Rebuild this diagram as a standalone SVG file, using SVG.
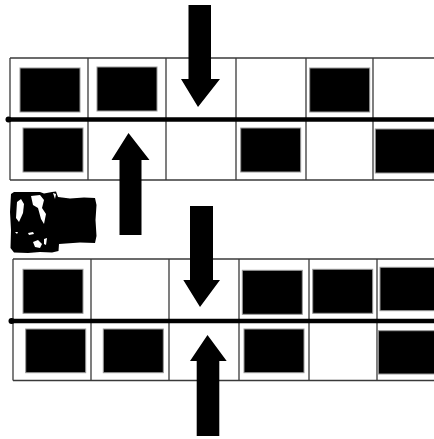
<svg xmlns="http://www.w3.org/2000/svg" width="434" height="439" viewBox="0 0 434 439">
<style>
.g{fill:none;stroke:#3a3a3a;stroke-width:1.3}
.thick{stroke:#000;stroke-width:4.5}
.blk{fill:#000;stroke:#999;stroke-width:1}
.arr{fill:#000}
.sp{fill:#fff}
</style>
<rect width="434" height="439" fill="#fff"/>
<g id="grid-top">
<line class="g" x1="10" y1="58" x2="434" y2="58"/>
<line class="g" x1="10" y1="180" x2="434" y2="180"/>
<line class="g" x1="10" y1="58" x2="10" y2="180"/>
<line class="g" x1="88" y1="58" x2="88" y2="180"/>
<line class="g" x1="166" y1="58" x2="166" y2="180"/>
<line class="g" x1="236" y1="58" x2="236" y2="180"/>
<line class="g" x1="306" y1="58" x2="306" y2="180"/>
<line class="g" x1="373" y1="58" x2="373" y2="180"/>
<line class="thick" x1="8" y1="119.5" x2="434" y2="119.5"/>
<circle cx="8.5" cy="119.5" r="3"/>
<rect class="blk" x="20" y="68" width="60" height="44"/>
<rect class="blk" x="97" y="67" width="60" height="44"/>
<rect class="blk" x="309.7" y="68" width="60" height="44"/>
<rect class="blk" x="23" y="128" width="60" height="44"/>
<rect class="blk" x="240.7" y="128" width="60" height="44"/>
<rect class="blk" x="375.3" y="129" width="70" height="44"/>
</g>
<g id="grid-bottom">
<line class="g" x1="13" y1="259" x2="434" y2="259"/>
<line class="g" x1="13" y1="380.5" x2="434" y2="380.5"/>
<line class="g" x1="13" y1="259" x2="13" y2="380.5"/>
<line class="g" x1="91" y1="259" x2="91" y2="380.5"/>
<line class="g" x1="169" y1="259" x2="169" y2="380.5"/>
<line class="g" x1="239" y1="259" x2="239" y2="380.5"/>
<line class="g" x1="309" y1="259" x2="309" y2="380.5"/>
<line class="g" x1="377" y1="259" x2="377" y2="380.5"/>
<line class="thick" x1="11" y1="321" x2="434" y2="321"/>
<circle cx="11.5" cy="321" r="3"/>
<rect class="blk" x="23" y="269.3" width="60" height="44"/>
<rect class="blk" x="242.3" y="270.3" width="60" height="44"/>
<rect class="blk" x="312.7" y="269.3" width="60" height="44"/>
<rect class="blk" x="380" y="267.3" width="60" height="43.4"/>
<rect class="blk" x="25.7" y="329" width="60" height="43.7"/>
<rect class="blk" x="103.3" y="329" width="60" height="43.7"/>
<rect class="blk" x="244" y="329" width="60" height="43.7"/>
<rect class="blk" x="378.3" y="330.7" width="60" height="43.3"/>
</g>
<g id="blob">
<path d="M11,194 L14,192 L40,192 L44,193.5 L52,192 L56,191.5 L58,197 L70,198.5 L84,197.5 L95,198 L96.5,205 L95.5,220 L96.5,236 L95,243 L80,242.5 L66,243.5 L59,244 L58.5,251 L52,252.5 L40,252 L28,253 L14,252.5 L10.5,248 L11,230 L10,212 Z" fill="#000"/>
<path class="sp" d="M17,202 L21,199 L24,204 L23,213 L19,222 L16,218 Z"/>
<path class="sp" d="M31,196 L40,195 L44,200 L42,208 L46,214 L44,224 L41,219 L38,208 L33,205 Z"/>
<path class="sp" d="M28,233 L33,232 L34,234 L29,235 Z"/>
<path class="sp" d="M33,242 L38,240 L42,244 L40,248 L35,247 Z"/>
<path class="sp" d="M44,239 L47,238 L46,245 L44,244 Z"/>
<path class="sp" d="M15,232 L18,232 L17,234 Z"/>
<path class="sp" d="M53,193 L56,194 L55,199 Z"/>
</g>
<g id="connectors">
<polygon class="arr" points="188.5,5 211,5 211,79 220,79 198,107 181,79 188.5,79"/>
<polygon class="arr" points="128.5,133 149.5,160 141.5,160 141.5,235 119.5,235 119.5,160 111.5,160"/>
<polygon class="arr" points="190,206 213,206 213,280 220,280 200,307 183.3,280 190,280"/>
<polygon class="arr" points="207.5,335 226.7,361 219.3,361 219.3,436 196.7,436 196.7,361 190,361"/>
</g>
</svg>
